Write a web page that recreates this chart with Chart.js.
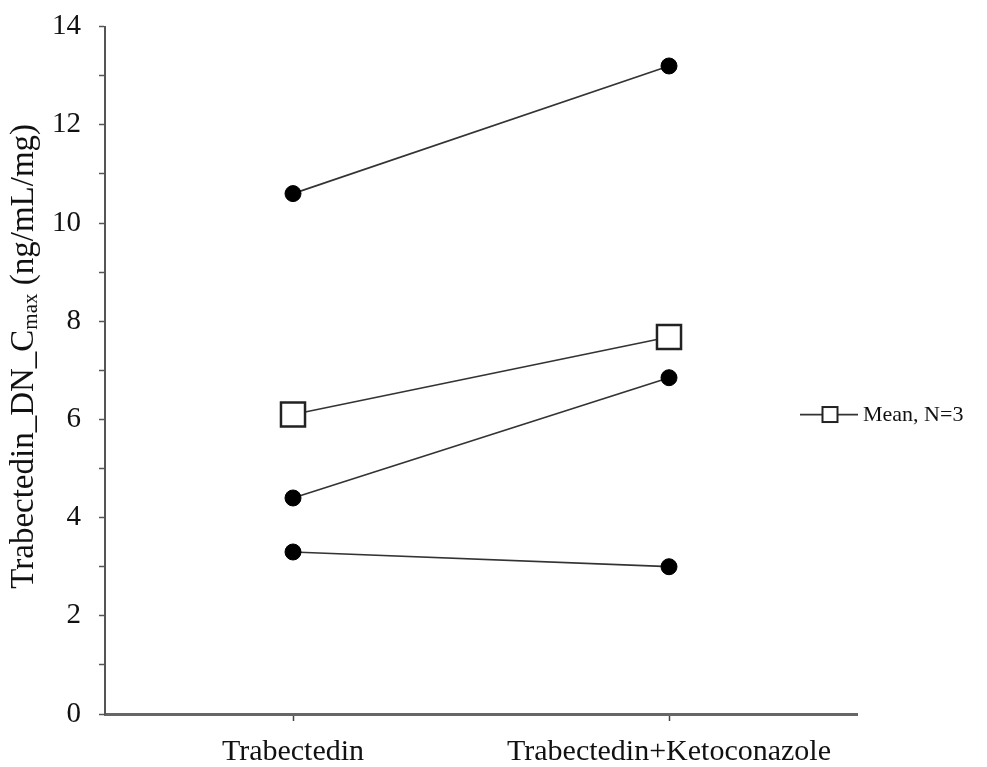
<!DOCTYPE html>
<html>
<head>
<meta charset="utf-8">
<script src="https://cdn.jsdelivr.net/npm/chart.js@4"></script>
<style>
  html, body { margin: 0; padding: 0; background: #fff; }
  #wrap { width: 987px; height: 767px; position: relative; }
</style>
</head>
<body>
<div id="wrap"><canvas id="c"></canvas></div>
<script>
// Treatment periods on the x axis
const categories = ['Trabectedin', 'Trabectedin+Ketoconazole'];

// Dose-normalised Cmax per patient (ng/mL/mg)
const patient1 = [10.6, 13.2];
const patient2 = [4.4, 6.85];
const patient3 = [3.3, 3.0];
const meanValues = [6.1, 7.68];

const yTickValues = [0, 2, 4, 6, 8, 10, 12, 14];
const legendLabel = 'Mean, N=3';
const axisTitleMain = 'Trabectedin_DN_C';
const axisTitleSub = 'max';
const axisTitleTail = ' (ng/mL/mg)';

const SERIF = "'Liberation Serif', 'Times New Roman', serif";
const LINE_COLOR = '#333';

function patientSet(values) {
  return {
    data: values,
    borderColor: LINE_COLOR,
    borderWidth: 1.7,
    pointStyle: 'circle',
    pointRadius: 8,
    pointBackgroundColor: '#000',
    pointBorderColor: '#000',
    pointBorderWidth: 1,
    tension: 0
  };
}

// Rotated y-axis title with a subscript, plus the single legend entry
const decorations = {
  id: 'decorations',
  afterDraw(chart) {
    const ctx = chart.ctx;
    const area = chart.chartArea;

    // y-axis title
    const mainFont = '33px ' + SERIF;
    const subFont = '21px ' + SERIF;
    ctx.save();
    ctx.font = mainFont;
    const w1 = ctx.measureText(axisTitleMain).width;
    const w3 = ctx.measureText(axisTitleTail).width;
    ctx.font = subFont;
    const w2 = ctx.measureText(axisTitleSub).width;
    const total = w1 + w2 + w3;
    const cy = (area.top + area.bottom) / 2 - 14;
    ctx.translate(24, cy);
    ctx.rotate(-Math.PI / 2);
    ctx.fillStyle = '#111';
    ctx.textBaseline = 'middle';
    ctx.textAlign = 'left';
    let x = -total / 2;
    ctx.font = mainFont;
    ctx.fillText(axisTitleMain, x, 0);
    x += w1;
    ctx.font = subFont;
    ctx.fillText(axisTitleSub, x, 7);
    x += w2;
    ctx.font = mainFont;
    ctx.fillText(axisTitleTail, x, 0);
    ctx.restore();

    // legend: line with an open square, then the label
    const ly = chart.scales.y.getPixelForValue(meanValues[0]);
    const lx0 = area.right - 57;
    const lx1 = area.right + 1;
    const sq = 15;
    const sx = lx0 + 30;
    ctx.save();
    ctx.strokeStyle = LINE_COLOR;
    ctx.lineWidth = 1.7;
    ctx.beginPath();
    ctx.moveTo(lx0, ly);
    ctx.lineTo(lx1, ly);
    ctx.stroke();
    ctx.fillStyle = '#fff';
    ctx.fillRect(sx - sq / 2, ly - sq / 2, sq, sq);
    ctx.strokeStyle = '#222';
    ctx.lineWidth = 2;
    ctx.strokeRect(sx - sq / 2, ly - sq / 2, sq, sq);
    ctx.fillStyle = '#111';
    ctx.font = '22px ' + SERIF;
    ctx.textBaseline = 'middle';
    ctx.fillText(legendLabel, lx1 + 5, ly + 1);
    ctx.restore();
  }
};

new Chart(document.getElementById('c'), {
  type: 'line',
  data: {
    labels: categories,
    datasets: [
      patientSet(patient1),
      patientSet(patient2),
      patientSet(patient3),
      {
        label: legendLabel,
        data: meanValues,
        borderColor: LINE_COLOR,
        borderWidth: 1.7,
        pointStyle: 'rect',
        pointRadius: 17,
        pointBackgroundColor: '#fff',
        pointBorderColor: '#222',
        pointBorderWidth: 2.5,
        tension: 0
      }
    ]
  },
  options: {
    responsive: true,
    maintainAspectRatio: false,
    animation: false,
    layout: { padding: { left: 0, right: 130, top: 26, bottom: 0 } },
    plugins: { legend: { display: false }, tooltip: { enabled: false } },
    scales: {
      x: {
        type: 'category',
        offset: true,
        grid: {
          display: true,
          offset: false,
          drawOnChartArea: false,
          drawTicks: true,
          tickLength: 7,
          tickColor: '#444',
          tickWidth: 1.5
        },
        border: { display: true, color: '#666', width: 3 },
        ticks: {
          color: '#111',
          font: { family: SERIF, size: 30 },
          padding: 13,
          maxRotation: 0,
          autoSkip: false
        },
        afterFit(scale) { scale.height = 53; }
      },
      y: {
        min: 0,
        max: 14,
        grid: {
          display: true,
          drawOnChartArea: false,
          drawTicks: true,
          tickLength: 6,
          tickColor: '#555',
          tickWidth: 1.5
        },
        border: { display: true, color: '#555', width: 2 },
        ticks: {
          stepSize: 1,
          autoSkip: false,
          color: '#111',
          font: { family: SERIF, size: 29, lineHeight: 0.6 },
          padding: 18,
          callback: (v) => (yTickValues.includes(v) ? String(v) : '')
        },
        afterFit(scale) { scale.width = 105; }
      }
    }
  },
  plugins: [decorations]
});
</script>
</body>
</html>
